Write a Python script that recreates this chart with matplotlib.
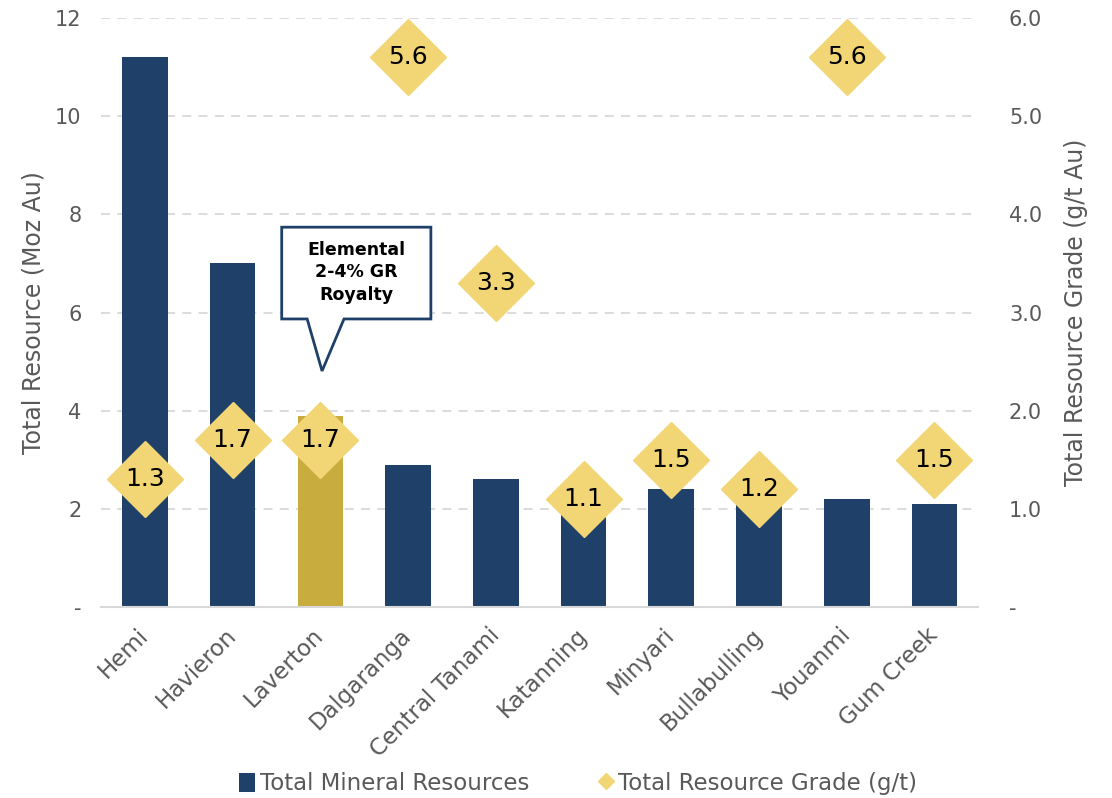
import numpy as np
import matplotlib.pyplot as plt
from matplotlib.lines import Line2D
from matplotlib.patches import Patch, Polygon

# =====================================
# DATA
# =====================================

projects = ["Hemi", "Havieron", "Laverton", "Dalgaranga", "Central Tanami",
            "Katanning", "Minyari", "Bullabulling", "Youanmi", "Gum Creek"]
resources_moz = [11.2, 7.0, 3.9, 2.9, 2.6, 2.0, 2.4, 2.1, 2.2, 2.1]
grade_gt = [1.3, 1.7, 1.7, 5.6, 3.3, 1.1, 1.5, 1.2, 5.6, 1.5]
highlight = "Laverton"

left_ticks = [0, 2, 4, 6, 8, 10, 12]
left_labels = ["-", "2", "4", "6", "8", "10", "12"]
right_ticks = [0, 1, 2, 3, 4, 5, 6]
right_labels = ["-", "1.0", "2.0", "3.0", "4.0", "5.0", "6.0"]

# =====================================
# STYLE
# =====================================

NAVY = "#1f4068"
GOLD = "#c9ac3e"
DIAMOND = "#f2d675"
GREY = "#595959"
GRID = "#d9d9d9"

plt.rcParams["font.family"] = ["DejaVu Sans"]

fig = plt.figure(figsize=(11.12, 7.98), dpi=100)
ax = fig.add_axes([0.0908, 0.2393, 0.789, 0.738])
ax2 = ax.twinx()

x = np.arange(len(projects))
colors = [GOLD if p == highlight else NAVY for p in projects]

# =====================================
# BARS
# =====================================

ax.bar(x, resources_moz, width=0.52, color=colors, zorder=2)
ax.set_xlim(-0.5, len(projects) - 0.5)
ax.set_ylim(0, 12)
ax.set_yticks(left_ticks)
ax.set_yticklabels(left_labels)
ax.set_xticks(x)
ax.set_xticklabels(projects, rotation=45, ha="right", va="center",
                   rotation_mode="anchor", fontsize=16.5, color=GREY)
ax.tick_params(axis="x", length=0, pad=18)
ax.tick_params(axis="y", length=0, labelsize=15, labelcolor=GREY, pad=14)
ax.set_ylabel("Total Resource (Moz Au)", fontsize=17, color=GREY, labelpad=7)
ax.yaxis.grid(True, linestyle=(0, (5, 4)), color=GRID, linewidth=1.3, zorder=0)
ax.set_axisbelow(True)

for side in ["top", "left", "right"]:
    ax.spines[side].set_visible(False)
ax.spines["bottom"].set_color(GRID)
ax.spines["bottom"].set_linewidth(1.5)

# =====================================
# GRADE DIAMONDS
# =====================================

ax2.plot(x, grade_gt, linestyle="none", marker="D", markersize=38.5,
         color=DIAMOND, zorder=3)
for xi, g in zip(x, grade_gt):
    ax2.text(xi, g, f"{g:.1f}", ha="center", va="center",
             fontsize=18, color="black", zorder=4)
ax2.set_ylim(0, 6)
ax2.set_yticks(right_ticks)
ax2.set_yticklabels(right_labels)
ax2.tick_params(axis="y", length=0, labelsize=15, labelcolor=GREY, pad=22)
ax2.set_ylabel("Total Resource Grade (g/t Au)", fontsize=17, color=GREY,
               labelpad=16)
for side in ["top", "left", "right", "bottom"]:
    ax2.spines[side].set_visible(False)

# =====================================
# CALLOUT
# =====================================

callout = Polygon([(1.56, 7.74), (3.26, 7.74), (3.26, 5.87), (2.27, 5.87),
                   (2.02, 4.81), (1.85, 5.87), (1.56, 5.87)],
                  closed=True, facecolor="white", edgecolor=NAVY,
                  linewidth=2, zorder=5)
ax.add_patch(callout)
ax.text(2.41, 6.82, "Elemental\n2-4% GR\nRoyalty", ha="center", va="center",
        fontsize=12.5, fontweight="bold", color="black", linespacing=1.3,
        zorder=6)

# =====================================
# LEGEND
# =====================================

handles = [
    Patch(facecolor=NAVY, label="Total Mineral Resources"),
    Line2D([], [], linestyle="none", marker="D", markersize=8,
           color=DIAMOND, label="Total Resource Grade (g/t)"),
]
fig.legend(handles=handles, loc="lower center", ncol=2,
           bbox_to_anchor=(0.52, -0.022), frameon=False, fontsize=16.5,
           labelcolor=GREY, handlelength=0.7, handleheight=0.9,
           handletextpad=0.2, columnspacing=3.0)

fig.savefig("out.png", dpi=100)
